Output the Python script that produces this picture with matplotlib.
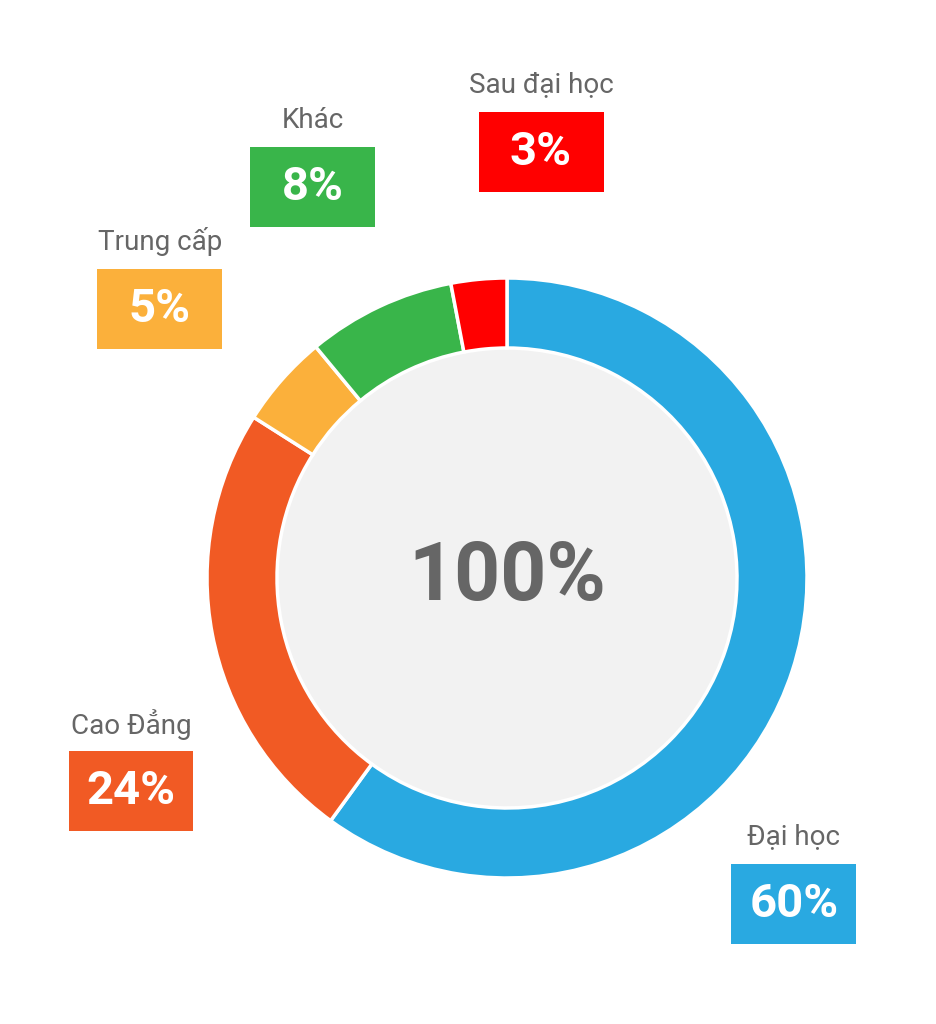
import matplotlib.pyplot as plt
from matplotlib.patches import Rectangle

plt.rcParams['font.family'] = ['Roboto', 'DejaVu Sans']

labels = ["Đại học", "Cao Đẳng", "Trung cấp", "Khác", "Sau đại học"]
values = [60, 24, 5, 8, 3]
colors = ["#29a9e1", "#f15a24", "#fbb03b", "#39b54a", "#ff0000"]
# box centre positions in pixels (x, y from top)
box_pos = [(794, 904), (131, 791), (160, 309), (313, 187), (541, 152)]

W, H = 937, 1024
fig = plt.figure(figsize=(W / 100, H / 100), dpi=100)

cx, cy, r = 507, 578, 300
ax = fig.add_axes([(cx - r) / W, 1 - (cy + r) / H, 2 * r / W, 2 * r / H])
ax.pie(values, colors=colors, startangle=90, counterclock=False, radius=1,
       wedgeprops=dict(width=70 / 300, edgecolor="white", linewidth=2.5))
ax.add_patch(plt.Circle((0, 0), 230 / 300, color="#f2f2f2", zorder=0))
ax.set_xlim(-1, 1)
ax.set_ylim(-1, 1)
ax.set_aspect("equal")
ax.axis("off")
ax.text(0, 0, "100%", ha="center", va="center", fontsize=58,
        fontweight="bold", color="#666666")

bw, bh = 125, 80
for lab, val, col, (px, py) in zip(labels, values, colors, box_pos):
    fig.patches.append(Rectangle(((px - bw / 2) / W, 1 - (py + bh / 2) / H),
                                 bw / W, bh / H, transform=fig.transFigure,
                                 facecolor=col, edgecolor="none"))
    fig.text(px / W, 1 - py / H, f"{val}%", ha="center", va="center",
             fontsize=34, fontweight="bold", color="white")
    fig.text(px / W, 1 - (py - 67) / H, lab, ha="center", va="center",
             fontsize=20, color="#666666")

fig.savefig("out.png", dpi=100)
